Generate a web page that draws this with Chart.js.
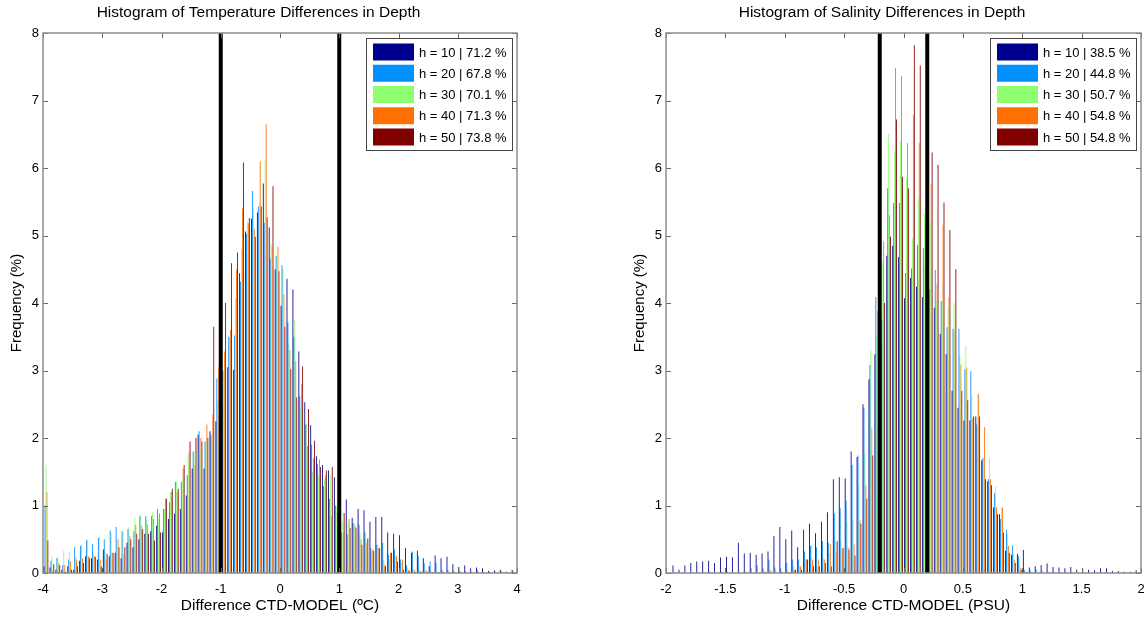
<!DOCTYPE html>
<html>
<head>
<meta charset="utf-8">
<title>Histogram of Differences in Depth</title>
<script src="https://cdn.jsdelivr.net/npm/chart.js@4.4.1/dist/chart.umd.min.js"></script>
<style>
    html, body { margin: 0; padding: 0; background: #fff; }
    body { width: 1146px; height: 619px; overflow: hidden; position: relative; }
    .box { position: absolute; top: 0; height: 619px; }
    #tempBox { left: 0; width: 560px; }
    #salBox { left: 623px; width: 561px; }
</style>
</head>
<body>
<div class="box" id="tempBox"><canvas id="tempChart"></canvas></div>
<div class="box" id="salBox"><canvas id="salChart"></canvas></div>
<script>
// depths and colours of the five series
const depths = [10, 20, 30, 40, 50];
const seriesColors = ["#00008f", "#0090ff", "#8fff70", "#ff7000", "#800000"];

// % of values inside the limits, per depth
const tempPct = [71.2, 67.8, 70.1, 71.3, 73.8];
const salPct = [38.5, 44.8, 50.7, 54.8, 54.8];

// limits drawn as black vertical lines
const tempLimits = [-1, 1];
const salLimits = [-0.2, 0.2];

// tick labels
const tempTicks = [-4, -3, -2, -1, 0, 1, 2, 3, 4];
const salTicks = [-2, -1.5, -1, -0.5, 0, 0.5, 1, 1.5, 2];
const freqTicks = [0, 1, 2, 3, 4, 5, 6, 7, 8];

// temperature bins (centres, ºC)
const tempBins = [
    -3.95, -3.85, -3.75, -3.65, -3.55, -3.45, -3.35, -3.25, -3.15, -3.05,
    -2.95, -2.85, -2.75, -2.65, -2.55, -2.45, -2.35, -2.25, -2.15, -2.05,
    -1.95, -1.85, -1.75, -1.65, -1.55, -1.45, -1.35, -1.25, -1.15, -1.05,
    -0.95, -0.85, -0.75, -0.65, -0.55, -0.45, -0.35, -0.25, -0.15, -0.05,
    0.05, 0.15, 0.25, 0.35, 0.45, 0.55, 0.65, 0.75, 0.85, 0.95,
    1.05, 1.15, 1.25, 1.35, 1.45, 1.55, 1.65, 1.75, 1.85, 1.95,
    2.05, 2.15, 2.25, 2.35, 2.45, 2.55, 2.65, 2.75, 2.85, 2.95,
    3.05, 3.15, 3.25, 3.35, 3.45, 3.55, 3.65, 3.75, 3.85, 3.95
];
const tempH10 = [
    0.10, 0.08, 0.05, 0.05, 0.10, 0.05, 0.18, 0.25, 0.22, 0.20,
    0.35, 0.25, 0.30, 0.22, 0.45, 0.38, 0.50, 0.58, 0.62, 0.70,
    0.60, 0.80, 0.88, 0.95, 1.15, 1.55, 2.05, 1.55, 2.10, 2.25,
    2.50, 3.05, 3.01, 4.44, 5.06, 5.25, 5.34, 5.77, 5.12, 4.50,
    3.96, 4.36, 4.20, 3.28, 2.53, 2.19, 1.73, 1.60, 1.52, 1.42,
    1.00, 1.09, 0.82, 0.95, 0.93, 0.76, 0.83, 0.83, 0.60, 0.58,
    0.56, 0.37, 0.30, 0.33, 0.22, 0.10, 0.26, 0.22, 0.24, 0.13,
    0.09, 0.11, 0.07, 0.08, 0.07, 0.03, 0.04, 0.05, 0.02, 0.05
];
const tempH20 = [
    1.00, 0.18, 0.22, 0.12, 0.20, 0.38, 0.40, 0.48, 0.43, 0.52,
    0.50, 0.63, 0.68, 0.62, 0.65, 0.62, 0.84, 0.84, 0.85, 0.95,
    0.95, 1.05, 1.35, 1.35, 1.45, 1.80, 2.10, 1.95, 2.05, 2.88,
    3.00, 3.50, 3.52, 4.32, 5.03, 5.66, 5.43, 5.19, 4.66, 4.70,
    4.56, 3.71, 3.50, 2.62, 2.20, 1.90, 1.61, 1.29, 1.10, 1.00,
    0.60, 0.57, 0.74, 0.72, 0.60, 0.37, 0.42, 0.45, 0.27, 0.35,
    0.20, 0.12, 0.32, 0.25, 0.15, 0.17, 0.15, 0.05, 0.05, 0.03,
    0.03, 0.03, 0.02, 0.04, 0.02, 0.02, 0.02, 0.03, 0.01, 0.03
];
const tempH30 = [
    1.60, 0.25, 0.24, 0.33, 0.32, 0.25, 0.43, 0.50, 0.30, 0.54,
    0.32, 0.60, 0.48, 0.62, 0.68, 0.82, 0.85, 0.80, 0.90, 0.80,
    0.95, 1.20, 1.35, 1.40, 1.75, 1.80, 1.80, 1.95, 2.00, 2.55,
    3.00, 3.50, 4.07, 4.80, 5.20, 5.40, 5.48, 6.12, 4.88, 4.70,
    4.50, 3.39, 3.75, 2.43, 2.20, 1.50, 1.45, 1.40, 1.46, 1.00,
    0.77, 0.75, 0.74, 0.60, 0.50, 0.30, 0.42, 0.20, 0.20, 0.25,
    0.15, 0.08, 0.05, 0.05, 0.03, 0.03, 0.02, 0.02, 0.01, 0.01,
    0.01, 0.00, 0.00, 0.00, 0.00, 0.01, 0.00, 0.02, 0.00, 0.00
];
const tempH40 = [
    1.20, 0.05, 0.15, 0.12, 0.17, 0.20, 0.22, 0.25, 0.25, 0.20,
    0.20, 0.30, 0.50, 0.28, 0.55, 0.72, 0.70, 0.72, 0.80, 0.88,
    1.10, 1.20, 1.20, 1.55, 1.80, 1.60, 2.00, 2.20, 2.35, 3.05,
    3.28, 3.60, 4.50, 5.40, 5.18, 5.10, 6.10, 6.65, 4.84, 4.83,
    4.13, 3.30, 3.14, 2.80, 1.88, 1.70, 1.68, 1.45, 0.84, 0.90,
    0.60, 0.80, 0.70, 0.50, 0.45, 0.35, 0.37, 0.12, 0.30, 0.25,
    0.20, 0.05, 0.05, 0.03, 0.05, 0.02, 0.01, 0.01, 0.01, 0.00,
    0.00, 0.00, 0.00, 0.00, 0.00, 0.00, 0.00, 0.00, 0.00, 0.00
];
const tempH50 = [
    0.48, 0.13, 0.12, 0.02, 0.05, 0.10, 0.15, 0.22, 0.24, 0.10,
    0.28, 0.30, 0.38, 0.38, 0.50, 0.58, 0.65, 0.58, 0.48, 0.60,
    1.10, 1.25, 1.25, 1.60, 1.95, 2.00, 1.95, 2.00, 3.65, 2.90,
    4.00, 4.59, 4.75, 6.08, 5.26, 4.98, 5.43, 5.27, 5.73, 4.47,
    3.65, 3.02, 2.60, 3.06, 2.43, 1.96, 1.57, 1.52, 1.57, 0.90,
    0.89, 0.67, 0.67, 0.42, 0.51, 0.33, 0.37, 0.10, 0.30, 0.17,
    0.05, 0.03, 0.02, 0.02, 0.02, 0.01, 0.01, 0.00, 0.00, 0.00,
    0.00, 0.00, 0.00, 0.00, 0.00, 0.00, 0.00, 0.00, 0.00, 0.00
];

// salinity bins (centres, PSU)
const salBins = [
    -1.975, -1.925, -1.875, -1.825, -1.775, -1.725, -1.675, -1.625, -1.575, -1.525,
    -1.475, -1.425, -1.375, -1.325, -1.275, -1.225, -1.175, -1.125, -1.075, -1.025,
    -0.975, -0.925, -0.875, -0.825, -0.775, -0.725, -0.675, -0.625, -0.575, -0.525,
    -0.475, -0.425, -0.375, -0.325, -0.275, -0.225, -0.175, -0.125, -0.075, -0.025,
    0.025, 0.075, 0.125, 0.175, 0.225, 0.275, 0.325, 0.375, 0.425, 0.475,
    0.525, 0.575, 0.625, 0.675, 0.725, 0.775, 0.825, 0.875, 0.925, 0.975,
    1.025, 1.075, 1.125, 1.175, 1.225, 1.275, 1.325, 1.375, 1.425, 1.475,
    1.525, 1.575, 1.625, 1.675, 1.725, 1.775, 1.825, 1.875, 1.925, 1.975
];
const salH10 = [
    0.00, 0.11, 0.05, 0.11, 0.15, 0.17, 0.17, 0.18, 0.15, 0.23,
    0.24, 0.23, 0.45, 0.29, 0.30, 0.27, 0.29, 0.32, 0.55, 0.68,
    0.50, 0.63, 0.38, 0.64, 0.73, 0.59, 0.76, 0.90, 1.39, 1.42,
    1.40, 1.80, 1.72, 2.50, 2.87, 3.24, 3.40, 4.70, 4.85, 4.68,
    4.07, 4.37, 4.24, 4.09, 3.95, 3.93, 3.54, 3.24, 2.70, 2.45,
    2.26, 2.26, 2.32, 1.67, 1.36, 0.97, 0.87, 0.33, 0.27, 0.28,
    0.34, 0.08, 0.10, 0.12, 0.14, 0.09, 0.08, 0.07, 0.09, 0.05,
    0.07, 0.05, 0.04, 0.07, 0.07, 0.03, 0.03, 0.02, 0.02, 0.04
];
const salH20 = [
    0.00, 0.00, 0.00, 0.00, 0.01, 0.00, 0.01, 0.02, 0.00, 0.02,
    0.02, 0.00, 0.01, 0.02, 0.07, 0.12, 0.07, 0.20, 0.08, 0.07,
    0.15, 0.20, 0.20, 0.32, 0.40, 0.38, 0.47, 0.45, 0.88, 0.96,
    1.07, 1.60, 1.74, 2.45, 3.08, 4.09, 3.76, 5.70, 5.48, 5.48,
    4.44, 4.51, 4.86, 4.81, 4.20, 4.49, 4.03, 3.64, 3.62, 3.62,
    3.02, 2.99, 2.20, 1.70, 1.39, 1.18, 0.80, 0.64, 0.41, 0.25,
    0.05, 0.04, 0.05, 0.03, 0.02, 0.02, 0.01, 0.01, 0.01, 0.00,
    0.01, 0.00, 0.00, 0.00, 0.00, 0.00, 0.00, 0.00, 0.00, 0.00
];
const salH30 = [
    0.00, 0.00, 0.00, 0.00, 0.00, 0.00, 0.00, 0.00, 0.00, 0.00,
    0.00, 0.00, 0.00, 0.00, 0.00, 0.00, 0.00, 0.02, 0.02, 0.03,
    0.03, 0.10, 0.10, 0.20, 0.41, 0.10, 0.23, 0.30, 0.48, 0.48,
    0.76, 0.78, 1.30, 1.77, 3.30, 3.50, 4.60, 6.51, 6.24, 6.40,
    5.85, 4.96, 5.55, 5.33, 5.20, 4.03, 4.03, 3.94, 4.00, 3.22,
    3.37, 2.63, 2.65, 1.70, 1.70, 1.28, 0.97, 0.58, 0.30, 0.22,
    0.03, 0.01, 0.01, 0.00, 0.00, 0.00, 0.00, 0.00, 0.00, 0.00,
    0.00, 0.00, 0.00, 0.00, 0.00, 0.00, 0.00, 0.00, 0.00, 0.00
];
const salH40 = [
    0.00, 0.00, 0.00, 0.00, 0.00, 0.00, 0.00, 0.00, 0.00, 0.00,
    0.00, 0.00, 0.00, 0.00, 0.00, 0.00, 0.03, 0.05, 0.00, 0.00,
    0.02, 0.05, 0.10, 0.20, 0.20, 0.20, 0.20, 0.43, 0.30, 0.35,
    0.38, 0.43, 0.78, 1.30, 2.14, 3.88, 4.91, 5.30, 7.48, 7.36,
    6.37, 6.79, 6.37, 4.53, 5.77, 4.29, 5.16, 4.09, 3.60, 3.09,
    3.04, 2.29, 2.65, 2.16, 1.39, 0.97, 0.97, 0.40, 0.20, 0.08,
    0.02, 0.00, 0.00, 0.00, 0.00, 0.00, 0.00, 0.00, 0.00, 0.00,
    0.00, 0.00, 0.00, 0.00, 0.00, 0.00, 0.00, 0.00, 0.00, 0.00
];
const salH50 = [
    0.00, 0.00, 0.00, 0.00, 0.00, 0.00, 0.00, 0.00, 0.00, 0.00,
    0.00, 0.00, 0.00, 0.00, 0.00, 0.00, 0.00, 0.00, 0.00, 0.00,
    0.00, 0.05, 0.05, 0.20, 0.10, 0.10, 0.15, 0.10, 0.47, 0.37,
    0.35, 0.26, 0.73, 1.10, 1.74, 3.76, 4.00, 4.98, 6.72, 5.87,
    5.70, 7.82, 7.52, 5.18, 6.23, 6.05, 5.49, 5.08, 4.50, 2.70,
    2.56, 2.32, 2.32, 1.39, 1.30, 0.87, 0.60, 0.30, 0.15, 0.05,
    0.01, 0.00, 0.00, 0.00, 0.00, 0.00, 0.00, 0.00, 0.00, 0.00,
    0.00, 0.00, 0.00, 0.00, 0.00, 0.00, 0.00, 0.00, 0.00, 0.00
];

Chart.defaults.font.family = '"Liberation Sans", Arial, Helvetica, sans-serif';
Chart.defaults.color = "#000";

// box round the plot with inward ticks on all four sides
const axesBox = {
    id: "axesBox",
    afterDatasetsDraw(chart) {
        const { ctx, chartArea: a, scales } = chart;
        ctx.save();
        ctx.strokeStyle = "#666";
        ctx.lineWidth = 1;
        scales.x.ticks.forEach(t => {
            const px = Math.round(scales.x.getPixelForValue(t.value)) + 0.5;
            ctx.beginPath();
            ctx.moveTo(px, a.bottom); ctx.lineTo(px, a.bottom - 5);
            ctx.moveTo(px, a.top); ctx.lineTo(px, a.top + 5);
            ctx.stroke();
        });
        scales.y.ticks.forEach(t => {
            const py = Math.round(scales.y.getPixelForValue(t.value)) + 0.5;
            ctx.beginPath();
            ctx.moveTo(a.left, py); ctx.lineTo(a.left + 5, py);
            ctx.moveTo(a.right, py); ctx.lineTo(a.right - 5, py);
            ctx.stroke();
        });
        ctx.strokeStyle = "#8c8c8c";
        ctx.lineWidth = 1.5;
        ctx.strokeRect(a.left, a.top, a.right - a.left, a.bottom - a.top);
        ctx.restore();
    }
};

// legend box drawn inside the plot, top right
const boxLegend = {
    id: "boxLegend",
    afterDraw(chart) {
        const { ctx, chartArea: a } = chart;
        const items = chart.data.datasets.filter(d => d.type !== "line");
        ctx.save();
        ctx.font = '13px "Liberation Sans", Arial, sans-serif';
        const textW = Math.max(...items.map(d => ctx.measureText(d.label).width));
        const w = Math.round(7 + 41 + 5 + textW + 5);
        const h = 112;
        const x0 = Math.round(a.right - 5 - w);
        const y0 = Math.round(a.top + 5);
        ctx.fillStyle = "#fff";
        ctx.fillRect(x0, y0, w, h);
        ctx.strokeStyle = "#444";
        ctx.lineWidth = 1;
        ctx.strokeRect(x0 + 0.5, y0 + 0.5, w, h);
        ctx.textBaseline = "middle";
        items.forEach((d, i) => {
            const cy = y0 + 14 + i * 21.25;
            ctx.fillStyle = d.backgroundColor;
            ctx.fillRect(x0 + 7, cy - 8.5, 41, 17);
            ctx.fillStyle = "#000";
            ctx.fillText(d.label, x0 + 7 + 41 + 5, cy + 1);
        });
        ctx.restore();
    }
};

function histDatasets(series, pct, limits) {
    const sets = series.map((values, i) => ({
        label: "h = " + depths[i] + " | " + pct[i].toFixed(1) + " %",
        data: values,
        backgroundColor: seriesColors[i],
        borderWidth: 0,
        categoryPercentage: 0.8,
        barPercentage: 0.9,
        order: 1
    }));
    const top = freqTicks[freqTicks.length - 1];
    limits.forEach(v => {
        sets.push({
            type: "line",
            data: [{ x: v, y: 0 }, { x: v, y: top }],
            borderColor: "#000",
            borderWidth: 4,
            pointRadius: 0,
            order: 0
        });
    });
    return sets;
}

function histOptions(title, xTitle, xTicks) {
    return {
        responsive: true,
        maintainAspectRatio: false,
        animation: false,
        layout: { padding: { left: 0, right: 43, top: 0, bottom: 0 } },
        plugins: {
            legend: { display: false },
            tooltip: { enabled: false },
            title: {
                display: true,
                text: title,
                color: "#000",
                font: { size: 15.5, weight: "normal" },
                padding: { top: 3, bottom: 11.4 }
            }
        },
        scales: {
            x: {
                type: "linear",
                offset: false,
                min: xTicks[0],
                max: xTicks[xTicks.length - 1],
                grid: { display: false, drawTicks: false },
                border: { display: false },
                afterBuildTicks: s => { s.ticks = xTicks.map(v => ({ value: v })); },
                afterFit: s => { s.height = 46; },
                ticks: {
                    font: { size: 13 },
                    padding: 9,
                    maxRotation: 0,
                    autoSkip: false,
                    callback: v => String(v)
                },
                title: {
                    display: true,
                    text: xTitle,
                    font: { size: 15.5 },
                    padding: { top: 0, bottom: 4 }
                }
            },
            y: {
                min: freqTicks[0],
                max: freqTicks[freqTicks.length - 1],
                grid: { display: false, drawTicks: false },
                border: { display: false },
                afterBuildTicks: s => { s.ticks = freqTicks.map(v => ({ value: v })); },
                afterFit: s => { s.width = 43; },
                ticks: { font: { size: 13 }, padding: 4, callback: v => String(v) },
                title: {
                    display: true,
                    text: "Frequency (%)",
                    font: { size: 15 },
                    padding: { top: 8, bottom: 0 }
                }
            }
        }
    };
}

function initCharts() {
    const tempCanvas = document.getElementById("tempChart");
    if (tempCanvas) {
        new Chart(tempCanvas, {
            type: "bar",
            data: {
                labels: tempBins,
                datasets: histDatasets([tempH10, tempH20, tempH30, tempH40, tempH50], tempPct, tempLimits)
            },
            options: histOptions("Histogram of Temperature Differences in Depth", "Difference CTD-MODEL (ºC)", tempTicks),
            plugins: [axesBox, boxLegend]
        });
    }

    const salCanvas = document.getElementById("salChart");
    if (salCanvas) {
        new Chart(salCanvas, {
            type: "bar",
            data: {
                labels: salBins,
                datasets: histDatasets([salH10, salH20, salH30, salH40, salH50], salPct, salLimits)
            },
            options: histOptions("Histogram of Salinity Differences in Depth", "Difference CTD-MODEL (PSU)", salTicks),
            plugins: [axesBox, boxLegend]
        });
    }
}

document.addEventListener("DOMContentLoaded", initCharts);
</script>
</body>
</html>
